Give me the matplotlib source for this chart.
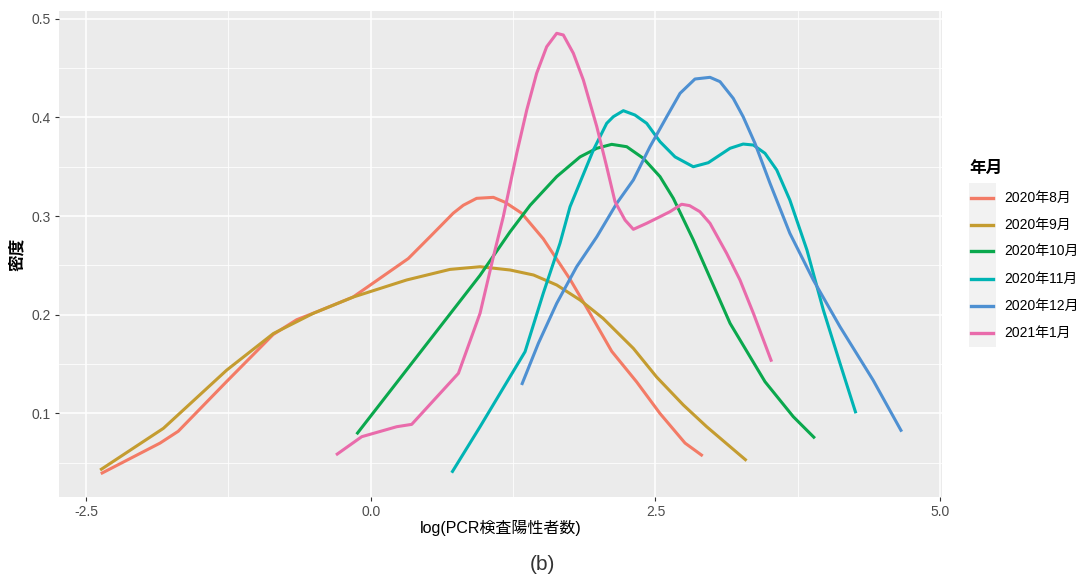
import matplotlib
matplotlib.use("Agg")
import matplotlib.pyplot as plt
from matplotlib.lines import Line2D
from matplotlib.patches import Rectangle
from matplotlib.ticker import FixedLocator

plt.rcParams['font.family'] = ['Liberation Sans', 'Noto Sans CJK JP', 'DejaVu Sans']

# ---- data ----
series_names = ["2020年8月", "2020年9月", "2020年10月", "2020年11月", "2020年12月", "2021年1月"]
series_colors = ["#F37B66", "#C49C30", "#0AA84D", "#00B4B4", "#4E90D2", "#E96BAB"]

aug_x = [-2.37, -1.85, -1.69, -1.26, -0.857, -0.65, -0.474, -0.155, 0.33, 0.52, 0.725, 0.813, 0.93,
         1.077, 1.18, 1.325, 1.515, 1.75, 1.925, 2.116, 2.335, 2.54, 2.76, 2.915]
aug_y = [0.039, 0.070, 0.082, 0.133, 0.180, 0.195, 0.203, 0.218, 0.257, 0.279, 0.303, 0.311, 0.318,
         0.319, 0.314, 0.303, 0.277, 0.236, 0.2015, 0.163, 0.132, 0.100, 0.070, 0.057]

sep_x = [-2.376, -1.82, -1.264, -0.855, -0.504, -0.153, 0.316, 0.696, 0.96, 1.223, 1.43, 1.633,
         1.838, 2.04, 2.306, 2.51, 2.745, 2.95, 3.30]
sep_y = [0.0427, 0.085, 0.144, 0.181, 0.2015, 0.218, 0.2353, 0.246, 0.2487, 0.2454, 0.2403, 0.2302,
         0.215, 0.1964, 0.166, 0.137, 0.1086, 0.0866, 0.0522]

oct_x = [-0.124, 0.96, 1.223, 1.40, 1.633, 1.838, 1.985, 2.116, 2.248, 2.393, 2.54, 2.657, 2.832,
         3.155, 3.462, 3.71, 3.90]
oct_y = [0.079, 0.240, 0.284, 0.311, 0.340, 0.360, 0.3687, 0.3727, 0.3703, 0.3586, 0.340, 0.318, 0.276,
         0.1914, 0.1322, 0.0968, 0.0749]

nov_x = [0.711, 0.96, 1.355, 1.515, 1.662, 1.75, 1.955, 2.072, 2.13, 2.218, 2.32, 2.423, 2.54, 2.672,
         2.832, 2.964, 3.155, 3.27, 3.36, 3.462, 3.565, 3.68, 3.83, 3.974, 4.12, 4.26]
nov_y = [0.040, 0.0866, 0.1626, 0.2218, 0.2725, 0.3095, 0.367, 0.394, 0.4007, 0.4068, 0.4024, 0.394,
         0.3754, 0.360, 0.350, 0.3541, 0.3687, 0.373, 0.372, 0.3636, 0.3467, 0.3163, 0.2657, 0.2049,
         0.151, 0.1002]

dec_x = [1.325, 1.472, 1.633, 1.808, 1.985, 2.16, 2.306, 2.452, 2.599, 2.716, 2.847, 2.979, 3.067,
         3.183, 3.27, 3.374, 3.506, 3.68, 3.886, 4.12, 4.41, 4.662]
dec_y = [0.1289, 0.1711, 0.2116, 0.2487, 0.279, 0.3129, 0.3366, 0.3703, 0.4007, 0.4244, 0.4389,
         0.4406, 0.4362, 0.4193, 0.4007, 0.3737, 0.3332, 0.2826, 0.2353, 0.188, 0.134, 0.0816]

jan_x = [-0.305, -0.079, 0.228, 0.36, 0.77, 0.96, 1.077, 1.164, 1.282, 1.37, 1.457, 1.545, 1.633,
         1.691, 1.779, 1.867, 1.985, 2.072, 2.145, 2.233, 2.306, 2.423, 2.54, 2.628, 2.73, 2.80,
         2.89, 2.979, 3.125, 3.242, 3.36, 3.52]
jan_y = [0.058, 0.0765, 0.0866, 0.089, 0.1407, 0.2015, 0.2589, 0.2994, 0.3636, 0.4075, 0.4447,
         0.4716, 0.4852, 0.4835, 0.465, 0.4379, 0.3906, 0.350, 0.3146, 0.296, 0.2866, 0.2927,
         0.2994, 0.3045, 0.312, 0.3106, 0.3045, 0.2927, 0.2623, 0.2353, 0.2015, 0.1525]

series_x = [aug_x, sep_x, oct_x, nov_x, dec_x, jan_x]
series_y = [aug_y, sep_y, oct_y, nov_y, dec_y, jan_y]

x_ticks = [-2.5, 0.0, 2.5, 5.0]
x_tick_labels = ["-2.5", "0.0", "2.5", "5.0"]
y_ticks = [0.1, 0.2, 0.3, 0.4, 0.5]
y_tick_labels = ["0.1", "0.2", "0.3", "0.4", "0.5"]
x_minor = [-1.25, 1.25, 3.75]
y_minor = [0.05, 0.15, 0.25, 0.35, 0.45]

x_title = "log(PCR検査陽性者数)"
y_title = "密度"
legend_title = "年月"
caption = "(b)"

# ---- figure ----
W, H = 1081, 576
fig = plt.figure(figsize=(W / 100, H / 100), dpi=100)
fig.patch.set_facecolor("white")
ax = fig.add_axes([59 / W, (H - 497) / H, (942 - 59) / W, (497 - 11) / H])
ax.set_facecolor("#EBEBEB")
for s in ax.spines.values():
    s.set_visible(False)

ax.set_xlim(-2.737, 5.016)
ax.set_ylim(0.0154, 0.5078)

ax.xaxis.set_major_locator(FixedLocator(x_ticks))
ax.yaxis.set_major_locator(FixedLocator(y_ticks))
ax.xaxis.set_minor_locator(FixedLocator(x_minor))
ax.yaxis.set_minor_locator(FixedLocator(y_minor))
ax.set_xticklabels(x_tick_labels)
ax.set_yticklabels(y_tick_labels)
ax.grid(which="major", color="white", linewidth=1.1)
ax.grid(which="minor", color="white", linewidth=0.55)
ax.set_axisbelow(True)
ax.tick_params(which="major", length=3, width=0.8, color="#333333", labelcolor="#4D4D4D",
               labelsize=10, pad=3)
ax.tick_params(which="minor", length=0)

for xs, ys, col in zip(series_x, series_y, series_colors):
    ax.plot(xs, ys, color=col, linewidth=2.2, solid_capstyle="butt", solid_joinstyle="round")

# axis titles placed to match reference
fig.text(500.5 / W, 1 - 528 / H, x_title, ha="center", va="center", fontsize=11.5, color="black")
fig.text(17 / W, 1 - 254 / H, y_title, ha="center", va="center", rotation=90, fontsize=12,
         fontweight="bold", color="black")

# caption
fig.text(542 / W, 1 - 565 / H, caption, ha="center", va="center", fontsize=15, color="#333333")

# ---- legend (manual, ggplot style) ----
fig.text(969 / W, 1 - 168 / H, legend_title, ha="left", va="center", fontsize=12,
         fontweight="bold", color="black")
fig.add_artist(Rectangle((969 / W, 1 - 347 / H), (996 - 969) / W, (347 - 183) / H,
                         transform=fig.transFigure, facecolor="#F2F2F2", edgecolor="none"))
key_y = [198, 225, 251, 279, 306, 333]
for name, col, yy in zip(series_names, series_colors, key_y):
    fig.add_artist(Line2D([971 / W, 993 / W], [1 - yy / H, 1 - yy / H], transform=fig.transFigure,
                          color=col, linewidth=2.4))
    fig.text(1004 / W, 1 - yy / H, name, ha="left", va="center", fontsize=10, color="black")

fig.savefig("out.png", dpi=100)
